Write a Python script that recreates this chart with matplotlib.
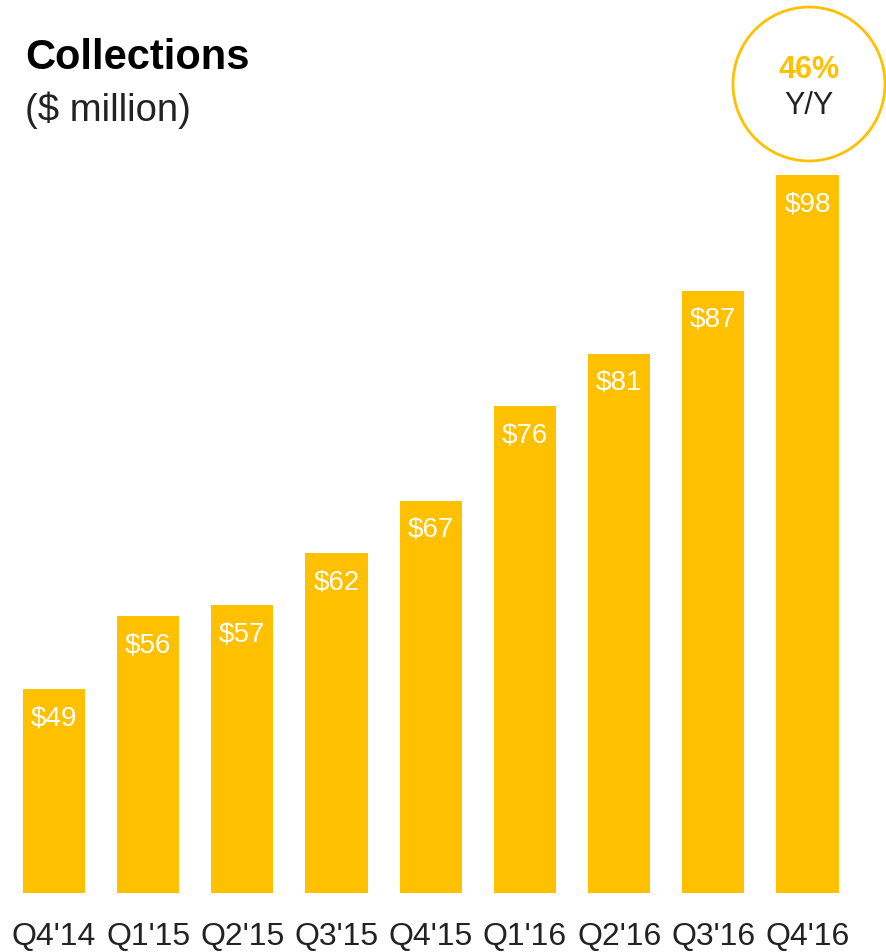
import matplotlib.pyplot as plt
from matplotlib.patches import Ellipse

quarters = ["Q4'14", "Q1'15", "Q2'15", "Q3'15", "Q4'15", "Q1'16", "Q2'16", "Q3'16", "Q4'16"]
collections = [49, 56, 57, 62, 67, 76, 81, 87, 98]
growth_label = "46%"

gold = '#FFC000'
font = 'Liberation Sans'

fig = plt.figure(figsize=(8.86, 9.52), dpi=100)
ax = fig.add_axes([0, 0.062, 1, 0.776])

x = range(len(quarters))
ax.bar(x, collections, width=0.66, color=gold)
ax.set_xlim(-0.573, 8.833)
ax.set_ylim(29.6, 100)

# value labels inside the bars
for xi, v in zip(x, collections):
    ax.annotate('$%d' % v, (xi, v), xytext=(0, -21), textcoords='offset points',
                ha='center', va='center', color='white', fontsize=20, family=font)

ax.set_xticks(list(x))
ax.set_xticklabels(quarters, fontsize=23, family=font, color='#222222')
ax.tick_params(axis='x', length=0, pad=21)
ax.set_yticks([])
for s in ax.spines.values():
    s.set_visible(False)

# heading
fig.text(25 / 886, 1 - 58 / 952, 'Collections', fontsize=30, fontweight='bold',
         family=font, va='center', ha='left')
fig.text(25 / 886, 1 - 110 / 952, '($ million)', fontsize=27.5, family=font,
         va='center', ha='left', color='#222222')

# growth badge
cx, cy = 809 / 886, 1 - 84 / 952
fig.add_artist(Ellipse((cx, cy), 152 / 886, 154 / 952, transform=fig.transFigure,
                       facecolor='white', edgecolor=gold, linewidth=2))
fig.text(cx, 1 - 70 / 952, growth_label, color=gold, fontsize=22, fontweight='bold',
         family=font, ha='center', va='center')
fig.text(cx, 1 - 106 / 952, 'Y/Y', color='#222222', fontsize=22, family=font,
         ha='center', va='center')

fig.savefig('out.png', dpi=100)
